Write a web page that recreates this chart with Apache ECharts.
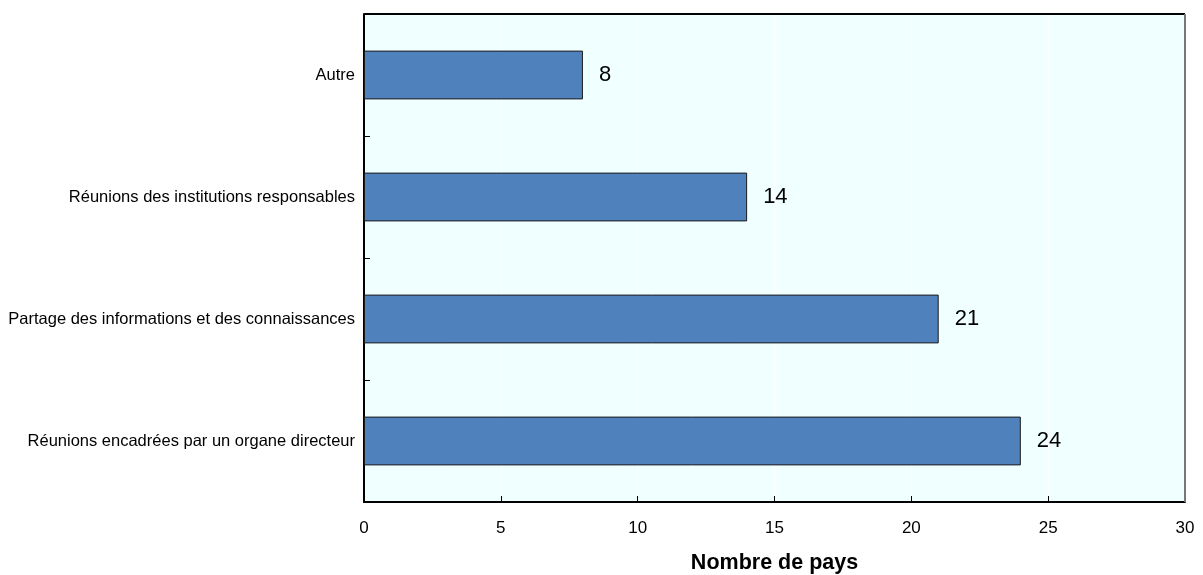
<!DOCTYPE html>
<html><head><meta charset="utf-8">
<script src="https://cdn.jsdelivr.net/npm/echarts@6/dist/echarts.min.js"></script>
<style>html,body{margin:0;padding:0;background:#fff}#c{width:1203px;height:575px}</style>
</head><body><div id="c"></div>
<script>
const categories = ["Réunions encadrées par un organe directeur","Partage des informations et des connaissances","Réunions des institutions responsables","Autre"];
const values = [24, 21, 14, 8];
const xTicks = [0,5,10,15,20,25,30];
const xTitle = "Nombre de pays";
const FONT = "'Liberation Sans Narrow','Arial Narrow','Liberation Sans',Arial,sans-serif";
const chart = echarts.init(document.getElementById('c'));
chart.setOption({
  animation:false,
  grid:{left:364,right:18,top:14,bottom:73,outerBoundsMode:'none',containLabel:false,show:true,backgroundColor:'#F0FFFF',borderWidth:0},
  xAxis:{type:'value',min:xTicks[0],max:xTicks[xTicks.length-1],interval:5,
    axisLine:{show:true,lineStyle:{color:'#000',width:2}},
    axisTick:{show:true,inside:true,length:6,lineStyle:{color:'#000',width:1}},
    axisLabel:{color:'#000',fontFamily:FONT,fontSize:17,margin:18},
    splitLine:{show:true,lineStyle:{color:'#fff',width:1}},
    name:xTitle,nameLocation:'middle',nameGap:50,
    nameTextStyle:{color:'#000',fontFamily:FONT,fontSize:21.5,fontWeight:'bold'}},
  yAxis:{type:'category',data:categories,
    axisLine:{show:true,lineStyle:{color:'#000',width:2}},
    axisTick:{show:true,inside:true,length:6,lineStyle:{color:'#000',width:1}},
    axisLabel:{color:'#000',fontFamily:FONT,fontSize:16.5,margin:9},
    splitLine:{show:false}},
  series:[{type:'bar',data:values,barWidth:'40%',
    itemStyle:{color:'#4F81BD',borderColor:'#1a1a1a',borderWidth:1},
    label:{show:true,position:'right',distance:16,color:'#000',fontFamily:FONT,fontSize:22}}]
});
const g = chart.getModel().getComponent('grid').coordinateSystem.getRect();
chart.setOption({graphic:[
  {type:'line',shape:{x1:g.x,y1:g.y,x2:g.x+g.width,y2:g.y},style:{stroke:'#000',lineWidth:2},z:10},
  {type:'line',shape:{x1:g.x+g.width,y1:g.y,x2:g.x+g.width,y2:g.y+g.height},style:{stroke:'#777',lineWidth:2},z:10}
]});
</script>
</body></html>
